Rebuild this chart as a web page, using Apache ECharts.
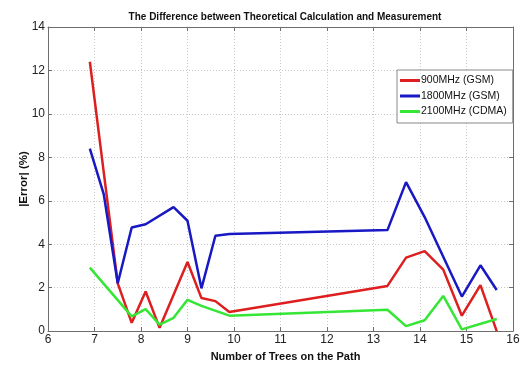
<!DOCTYPE html>
<html><head><meta charset="utf-8">
<script src="https://cdn.jsdelivr.net/npm/echarts@6/dist/echarts.min.js"></script>
<style>html,body{margin:0;padding:0;background:#fff}#c{width:526px;height:367px}</style>
</head><body><div id="c"></div>
<script>
const xTicks = [6,7,8,9,10,11,12,13,14,15,16];
const yTicks = [0,2,4,6,8,10,12,14];
const seriesNames = ['900MHz (GSM)','1800MHz (GSM)','2100MHz (CDMA)'];
const x900 = [6.9,7.2,7.5,7.8,8.1,8.4,9.0,9.3,9.6,9.9,13.3,13.7,14.1,14.5,14.9,15.3,15.65];
const y900 = [12.4,7.3,2.2,0.38,1.82,0.15,3.18,1.52,1.38,0.88,2.08,3.38,3.68,2.83,0.71,2.12,0.0];
const x1800 = [6.9,7.2,7.5,7.8,8.1,8.7,9.0,9.3,9.6,9.9,13.3,13.7,14.1,14.9,15.3,15.65];
const y1800 = [8.4,6.29,2.2,4.77,4.92,5.71,5.08,1.97,4.39,4.47,4.65,6.86,5.25,1.59,3.03,1.89];
const x2100 = [6.9,7.8,8.1,8.4,8.7,9.0,9.3,9.9,13.3,13.7,14.1,14.5,14.9,15.65];
const y2100 = [2.92,0.68,1.01,0.30,0.61,1.44,1.16,0.71,0.98,0.23,0.50,1.62,0.08,0.56];
const colors = ['#dd1f1f','#1818c4','#35e635'];

function pairs(xs, ys){ return xs.map((x,i)=>[x, ys[i]]); }
const font = 'Liberation Sans, Arial, sans-serif';
const chart = echarts.init(document.getElementById('c'));
const axisCommon = {
  axisLine:{show:true,onZero:false,lineStyle:{color:'#6e6e6e',width:1}},
  axisTick:{show:true,inside:true,length:4,lineStyle:{color:'#6e6e6e'}},
  splitLine:{show:false}
};
chart.setOption({
  animation:false,
  backgroundColor:'#fff',
  title:{text:'The Difference between Theoretical Calculation and Measurement',left:280,textAlign:'center',top:7,
    textStyle:{fontFamily:font,fontSize:10,fontWeight:'bold',color:'#111'}},
  legend:{orient:'vertical',left:397,top:70,padding:[5,6,6,3],itemGap:4.5,
    borderColor:'#888',borderWidth:1,backgroundColor:'#fff',
    itemWidth:20,itemHeight:3,icon:'rect',
    textStyle:{fontFamily:font,fontSize:10.5,color:'#111',padding:[0,0,0,-4]},
    data:seriesNames},
  grid:{left:48,right:13,top:27,bottom:32,containLabel:false},
  xAxis:[
    Object.assign({type:'value',min:6,max:16,interval:1,position:'bottom',
      name:'Number of Trees on the Path',nameLocation:'middle',nameGap:17,
      nameTextStyle:{fontFamily:font,fontSize:11,fontWeight:'bold',color:'#111',padding:[0,0,0,10]},
      axisLabel:{fontFamily:font,fontSize:12,color:'#222',margin:3}},axisCommon,
      {splitLine:{show:true,lineStyle:{color:'#c8c8c8',type:[1,2],width:1}}}),
    Object.assign({type:'value',min:6,max:16,interval:1,position:'top',axisLabel:{show:false}},axisCommon)
  ],
  yAxis:[
    Object.assign({type:'value',min:0,max:14,interval:2,position:'left',
      name:'|Error| (%)',nameLocation:'middle',nameGap:18,nameMoveOverlap:false,
      nameTextStyle:{fontFamily:font,fontSize:11.5,fontWeight:'bold',color:'#111'},
      axisLabel:{fontFamily:font,fontSize:12,color:'#222',margin:3}},axisCommon,
      {splitLine:{show:true,lineStyle:{color:'#c8c8c8',type:[1,2],width:1}}}),
    Object.assign({type:'value',min:0,max:14,interval:2,position:'right',axisLabel:{show:false}},axisCommon)
  ],
  series:[
    {name:seriesNames[0],type:'line',data:pairs(x900,y900),color:colors[0]},
    {name:seriesNames[1],type:'line',data:pairs(x1800,y1800),color:colors[1]},
    {name:seriesNames[2],type:'line',data:pairs(x2100,y2100),color:colors[2]}
  ].map(s=>Object.assign(s,{showSymbol:false,symbol:'none',lineStyle:{width:2.5},clip:true}))
});
</script></body></html>
